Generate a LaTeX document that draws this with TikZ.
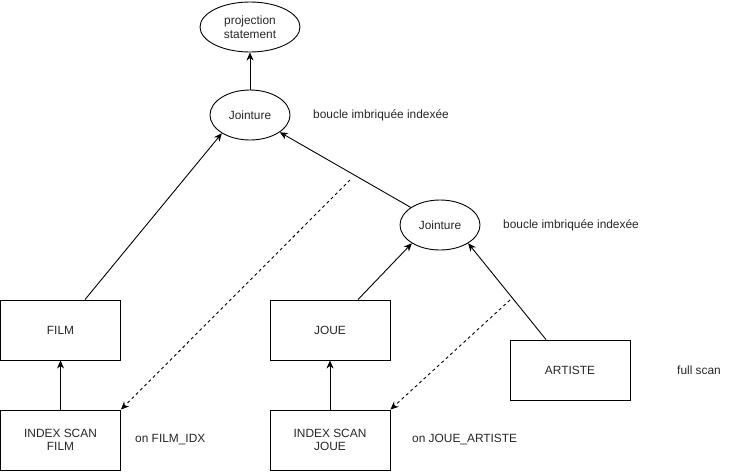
\documentclass[tikz,border=0pt]{standalone}
\usepackage{fontspec}
\setmainfont{Liberation Sans}
\usetikzlibrary{arrows.meta,shapes.geometric}
\begin{document}
\begin{tikzpicture}[x=1pt,y=-1pt,
  every node/.style={font=\fontsize{11.9}{13.5}\selectfont, text=black!85},
  box/.style={draw=black, line width=0.9pt, minimum width=120pt, minimum height=60pt, inner sep=0pt, align=center},
  oval/.style={draw=black, line width=0.9pt, ellipse, minimum width=80pt, minimum height=50pt, inner sep=0pt, align=center},
  lbl/.style={anchor=west, inner sep=0pt},
  conn/.style={line width=0.9pt, -{Stealth[length=8pt,width=7pt,inset=2.5pt]}},
  dconn/.style={conn, dash pattern=on 3pt off 3pt}
]
\useasboundingbox (0,0) rectangle (736,472);
\node[oval, minimum width=100pt] (proj) at (250,27) {projection\\statement};
\node[oval] (j1) at (250,115) {Jointure};
\node[oval] (j2) at (440,225) {Jointure};
\node[box] (film) at (60.5,330) {FILM};
\node[box] (ifilm) at (60.5,440) {INDEX SCAN\\FILM};
\node[box] (joue) at (330,330) {JOUE};
\node[box] (ijoue) at (330,440) {INDEX SCAN\\JOUE};
\node[box] (artiste) at (570,370) {ARTISTE};
\node[lbl] (l1) at (313,115) {boucle imbriquée indexée};
\node[lbl] (l2) at (503,225) {boucle imbriquée indexée};
\node[lbl] (l3) at (677,370) {full scan};
\node[lbl] (l4) at (135,440) {on FILM\_IDX};
\node[lbl] (l5) at (412,440) {on JOUE\_ARTISTE};
\coordinate (d1) at (350,180);
\coordinate (d2) at (510,300);
\draw[conn] (j1.north) -- (proj.south);
\draw[conn] ([xshift=24.5pt]film.north) -- (j1.213.7);
\draw[conn] (j2.149) -- (j1.330.6);
\draw[conn] ([xshift=28pt]joue.north) -- (j2.213.7);
\draw[conn] ([xshift=-24pt]artiste.north) -- (j2.327);
\draw[conn] (ifilm.north) -- (film.south);
\draw[conn] (ijoue.north) -- (joue.south);
\draw[dconn] (d1) -- (ifilm.north east);
\draw[dconn] (d2) -- (ijoue.north east);
\end{tikzpicture}
\end{document}
